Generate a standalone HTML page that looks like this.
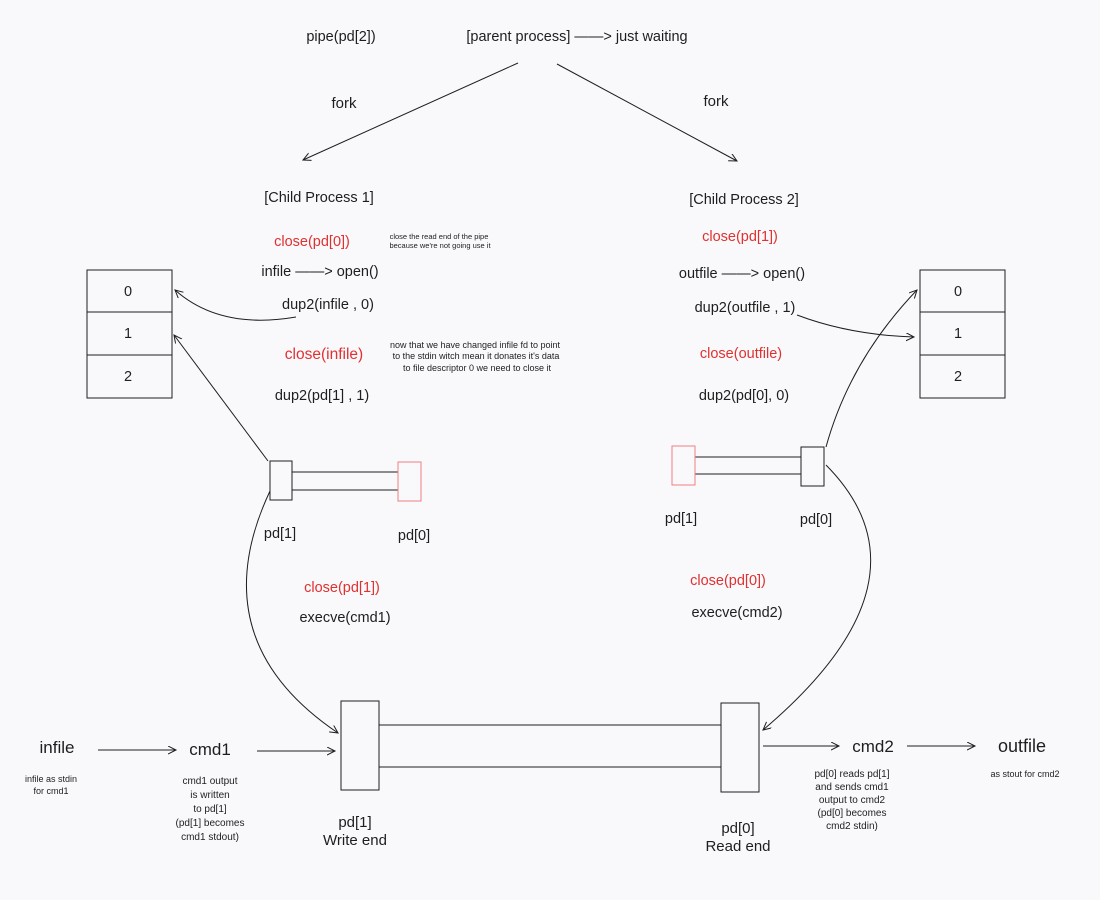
<!DOCTYPE html>
<html><head><meta charset="utf-8"><style>
html,body{margin:0;padding:0;background:#f9f9fb}
svg{display:block}
text{font-family:"Liberation Sans",sans-serif;fill:#1e1e1e}
.r{fill:#e03131}
</style></head><body>
<svg width="1100" height="900" viewBox="0 0 1100 900" xmlns="http://www.w3.org/2000/svg">
<defs><marker id="a" markerWidth="10" markerHeight="10" refX="8" refY="4" orient="auto" markerUnits="userSpaceOnUse"><path d="M0,0 L8,4 L0,8" fill="none" stroke="#1e1e1e" stroke-width="1"/></marker></defs>
<rect width="1100" height="900" fill="#f9f9fb"/>
<g font-size="14.5" text-anchor="middle">
<text x="341" y="41">pipe(pd[2])</text>
<text x="577" y="41">[parent process] ——&gt; just waiting</text>
<text x="344" y="108" font-size="15">fork</text>
<text x="716" y="106" font-size="15">fork</text>
<text x="319" y="202">[Child Process 1]</text>
<text x="744" y="204">[Child Process 2]</text>
<text class="r" x="312" y="246">close(pd[0])</text>
<text x="439" y="239" font-size="7.5">close the read end of the pipe</text>
<text x="440" y="248" font-size="7.5">because we're not going use it</text>
<text x="320" y="276">infile ——&gt; open()</text>
<text x="328" y="309">dup2(infile , 0)</text>
<text class="r" x="324" y="359" font-size="15.5">close(infile)</text>
<text x="475" y="348" font-size="9">now that we have changed infile fd to point</text>
<text x="476" y="359" font-size="9">to the stdin witch mean it donates it's data</text>
<text x="477" y="371" font-size="9">to file descriptor 0 we need to close it</text>
<text x="322" y="400">dup2(pd[1] , 1)</text>
<text class="r" x="740" y="241">close(pd[1])</text>
<text x="742" y="278">outfile ——&gt; open()</text>
<text x="745" y="312">dup2(outfile , 1)</text>
<text class="r" x="741" y="358">close(outfile)</text>
<text x="744" y="400">dup2(pd[0], 0)</text>
<text x="128" y="296">0</text><text x="128" y="338">1</text><text x="128" y="381">2</text>
<text x="958" y="296">0</text><text x="958" y="338">1</text><text x="958" y="381">2</text>
<text x="280" y="538">pd[1]</text>
<text x="414" y="540">pd[0]</text>
<text x="681" y="523">pd[1]</text>
<text x="816" y="524">pd[0]</text>
<text class="r" x="342" y="592">close(pd[1])</text>
<text x="345" y="622">execve(cmd1)</text>
<text class="r" x="728" y="585">close(pd[0])</text>
<text x="737" y="617">execve(cmd2)</text>
<text x="57" y="753" font-size="17">infile</text>
<text x="210" y="755" font-size="17">cmd1</text>
<text x="873" y="752" font-size="17">cmd2</text>
<text x="1022" y="752" font-size="18">outfile</text>
<text x="51" y="782" font-size="9">infile as stdin</text>
<text x="51" y="794" font-size="9">for cmd1</text>
<text x="210" y="784" font-size="10">cmd1 output</text>
<text x="210" y="798" font-size="10">is written</text>
<text x="210" y="812" font-size="10">to pd[1]</text>
<text x="210" y="826" font-size="10">(pd[1] becomes</text>
<text x="210" y="840" font-size="10">cmd1 stdout)</text>
<text x="355" y="827" font-size="15">pd[1]</text>
<text x="355" y="845" font-size="15">Write end</text>
<text x="738" y="833" font-size="15">pd[0]</text>
<text x="738" y="851" font-size="15">Read end</text>
<text x="852" y="777" font-size="10">pd[0] reads pd[1]</text>
<text x="852" y="790" font-size="10">and sends cmd1</text>
<text x="852" y="803" font-size="10">output to cmd2</text>
<text x="852" y="816" font-size="10">(pd[0] becomes</text>
<text x="852" y="829" font-size="10">cmd2 stdin)</text>
<text x="1025" y="777" font-size="9">as stout for cmd2</text>
</g>
<g fill="none" stroke="#1e1e1e" stroke-width="1">
<rect x="87" y="270" width="85" height="42"/><rect x="87" y="312" width="85" height="43"/><rect x="87" y="355" width="85" height="43"/>
<rect x="920" y="270" width="85" height="42"/><rect x="920" y="312" width="85" height="43"/><rect x="920" y="355" width="85" height="43"/>
<rect x="292" y="472" width="106" height="18"/>
<rect x="270" y="461" width="22" height="39"/>
<rect x="398" y="462" width="23" height="39" stroke="#f08080"/>
<rect x="695" y="457" width="106" height="17"/>
<rect x="672" y="446" width="23" height="39" stroke="#f08080"/>
<rect x="801" y="447" width="23" height="39"/>
<rect x="379" y="725" width="342" height="42"/>
<rect x="341" y="701" width="38" height="89"/>
<rect x="721" y="703" width="38" height="89"/>
<path d="M518 63 L303 160" marker-end="url(#a)"/>
<path d="M557 64 L737 161" marker-end="url(#a)"/>
<path d="M296 317 Q220 330 175 290" marker-end="url(#a)"/>
<path d="M268 461 L174 335" marker-end="url(#a)"/>
<path d="M797 315 Q850 335 914 337" marker-end="url(#a)"/>
<path d="M826 447 Q850 360 917 290" marker-end="url(#a)"/>
<path d="M270 491 Q200 640 338 733" marker-end="url(#a)"/>
<path d="M826 465 Q940 580 763 730" marker-end="url(#a)"/>
<path d="M98 750 L176 750" marker-end="url(#a)"/>
<path d="M257 751 L335 751" marker-end="url(#a)"/>
<path d="M763 746 L839 746" marker-end="url(#a)"/>
<path d="M907 746 L975 746" marker-end="url(#a)"/>
</g>
</svg>
</body></html>
